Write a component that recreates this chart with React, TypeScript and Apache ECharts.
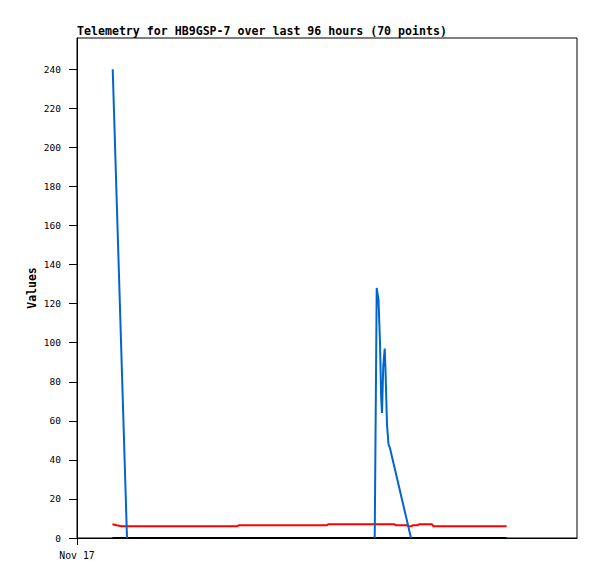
import React, { useEffect, useRef } from "react";
import * as echarts from "echarts";

const TITLE = "Telemetry for HB9GSP-7 over last 96 hours (70 points)";
const X_LABEL = "Nov 17";
const Y_NAME = "Values";
const Y_TICKS = [0, 20, 40, 60, 80, 100, 120, 140, 160, 180, 200, 220, 240];

// x = hours since Nov 17 00:00
const blueSeries: (number | null)[][] = [
  [8.57, 240], [12.0, 0], [40, null],
  [71.45, 0], [71.93, 128], [72.36, 122], [72.72, 100], [73.0, 72], [73.2, 64],
  [73.5, 88], [73.85, 97], [74.04, 86], [74.4, 58], [74.76, 48], [75.12, 46], [80.16, 0],
];
const redSeries: number[][] = [
  [8.5, 7], [9.5, 6.5], [10.7, 6], [38.5, 6], [38.8, 6.5], [60.0, 6.5], [60.3, 7],
  [76.2, 7], [76.5, 6.5], [79.2, 6.5], [79.5, 6], [80.3, 6], [80.6, 6.5], [81.8, 6.5],
  [82.1, 7], [85.2, 7], [85.5, 6], [103.1, 6],
];
const blackSeries: number[][] = [[8.5, 0], [103.1, 0]];

const MONO = "'DejaVu Sans Mono', 'Liberation Mono', monospace";

export default function App() {
  const ref = useRef<HTMLDivElement>(null);
  useEffect(() => {
    if (!ref.current) return;
    const chart = echarts.init(ref.current, undefined, { renderer: "svg" });
    chart.setOption({
      animation: false,
      backgroundColor: "#fff",
      title: {
        text: TITLE,
        left: 77,
        top: 25,
        padding: 0,
        textStyle: { fontFamily: MONO, fontWeight: "bold", fontSize: 11.6, color: "#000" },
      },
      grid: {
        left: 77, top: 38, width: 500, height: 500,
        show: true, borderColor: "#000", borderWidth: 1, backgroundColor: "transparent",
      },
      xAxis: {
        type: "value", min: 0, max: 120,
        axisLine: { show: true, lineStyle: { color: "#000", width: 1 } },
        axisTick: { show: true, length: 7, customValues: [0], lineStyle: { color: "#000" } },
        axisLabel: {
          customValues: [0], formatter: () => X_LABEL, margin: 12,
          fontFamily: MONO, fontSize: 9.8, color: "#000",
        },
        splitLine: { show: false },
      },
      yAxis: {
        type: "value", min: 0, max: 256,
        name: Y_NAME, nameLocation: "middle", nameGap: 39, nameMoveOverlap: false,
        nameTextStyle: { fontFamily: MONO, fontWeight: "bold", fontSize: 11.5, color: "#000" },
        axisLine: { show: true, lineStyle: { color: "#000", width: 1 } },
        axisTick: { show: true, length: 8, customValues: Y_TICKS, lineStyle: { color: "#000" } },
        axisLabel: {
          customValues: Y_TICKS, margin: 16,
          fontFamily: MONO, fontSize: 9.5, color: "#000",
        },
        splitLine: { show: false },
      },
      series: [
        {
          type: "line", data: redSeries, showSymbol: false, z: 2,
          lineStyle: { color: "#ff0000", width: 2 },
        },
        {
          type: "line", data: blackSeries, showSymbol: false, z: 3,
          lineStyle: { color: "#000000", width: 2 },
        },
        {
          type: "line", data: blueSeries, showSymbol: false, z: 4, connectNulls: false,
          lineStyle: { color: "#0066cc", width: 2 },
        },
      ],
    });
    return () => chart.dispose();
  }, []);
  return (
    <div
      ref={ref}
      style={{ position: "fixed", left: 0, top: 0, width: 597, height: 579, background: "#fff" }}
    />
  );
}
